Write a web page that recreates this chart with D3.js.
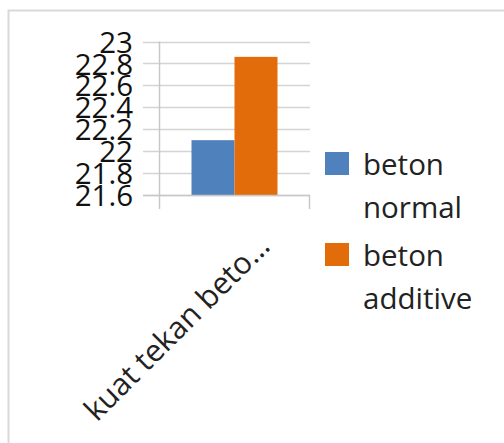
<!DOCTYPE html>
<html><head><meta charset="utf-8">
<script src="https://cdn.jsdelivr.net/npm/d3@7"></script>
<style>body{margin:0;background:#fff}svg{display:block}</style>
</head><body>
<script>
const categories = ["kuat tekan beto…"];
const seriesNames = ["beton normal", "beton additive"];
const legendLines = [["beton", "normal"], ["beton", "additive"]];
const values = [[22.1, 22.86]];
const tickValues = [21.6, 21.8, 22, 22.2, 22.4, 22.6, 22.8, 23];
const colors = ["#4f81bd", "#e36c0a"];

const W = 504, H = 443;
const svg = d3.select("body").append("svg").attr("width", W).attr("height", H);
svg.append("rect").attr("width", W).attr("height", H).attr("fill", "#fff");
svg.append("rect").attr("x", 8.5).attr("y", 10.5).attr("width", 540).attr("height", 480)
  .attr("fill", "none").attr("stroke", "#d9d9d9").attr("stroke-width", 2);

const plotL = 159, plotR = 310, plotT = 41.5, plotB = 195;
const y = d3.scaleLinear().domain([21.6, 23]).range([plotB, plotT]);
const x0 = d3.scaleBand().domain(categories).range([plotL, plotR]);
const x1 = d3.scaleBand().domain(seriesNames).range([0, x0.bandwidth()]).paddingOuter(0.756).paddingInner(0);

// gridlines
svg.append("g").selectAll("line").data(tickValues).join("line")
  .attr("x1", 143).attr("x2", plotR).attr("y1", d => Math.round(y(d)) + 0.5).attr("y2", d => Math.round(y(d)) + 0.5)
  .attr("stroke", "#d4d4d4").attr("stroke-width", 1.5);

// y labels
const yAxis = d3.axisLeft(y).tickValues(tickValues).tickSize(0).tickPadding(0).tickFormat(d => String(d));
const ya = svg.append("g").attr("transform", `translate(133,0)`).call(yAxis);
ya.select(".domain").remove();
ya.selectAll("text").attr("font-family", "'Open Sans', sans-serif").attr("font-size", 29.5).attr("fill", "#111").attr("dy", "0.36em");

// bars
const g = svg.append("g");
categories.forEach((c, ci) => {
  seriesNames.forEach((s, si) => {
    g.append("rect")
      .attr("x", x0(c) + x1(s)).attr("width", x1.bandwidth())
      .attr("y", y(values[ci][si])).attr("height", plotB - y(values[ci][si]))
      .attr("fill", colors[si]);
  });
});

// axes lines
svg.append("line").attr("x1", plotL + 0.5).attr("x2", plotL + 0.5).attr("y1", plotT).attr("y2", 209)
  .attr("stroke", "#c8c8c8").attr("stroke-width", 1.5);
svg.append("line").attr("x1", 143).attr("x2", plotR).attr("y1", plotB + 0.5).attr("y2", plotB + 0.5)
  .attr("stroke", "#c8c8c8").attr("stroke-width", 1.5);
svg.append("line").attr("x1", plotR - 0.5).attr("x2", plotR - 0.5).attr("y1", plotB).attr("y2", 209)
  .attr("stroke", "#c8c8c8").attr("stroke-width", 1.5);

// category label
categories.forEach(c => {
  const cx = x0(c) + x0.bandwidth() / 2;
  svg.append("text").attr("transform", `translate(${cx + 37},${plotB + 53}) rotate(-45)`)
    .attr("text-anchor", "end").attr("font-family", "'Open Sans', sans-serif").attr("font-size", 30.5)
    .attr("fill", "#222").text(c);
});

// legend
const leg = svg.append("g");
legendLines.forEach((lines, i) => {
  const top = 152 + i * 91;
  leg.append("rect").attr("x", 325).attr("y", top).attr("width", 24).attr("height", 23).attr("fill", colors[i]);
  lines.forEach((t, j) => {
    leg.append("text").attr("x", 363).attr("y", top + 23 + j * 43)
      .attr("font-family", "'Open Sans', sans-serif").attr("font-size", 29.5).attr("fill", "#222").text(t);
  });
});
</script>
</body></html>
